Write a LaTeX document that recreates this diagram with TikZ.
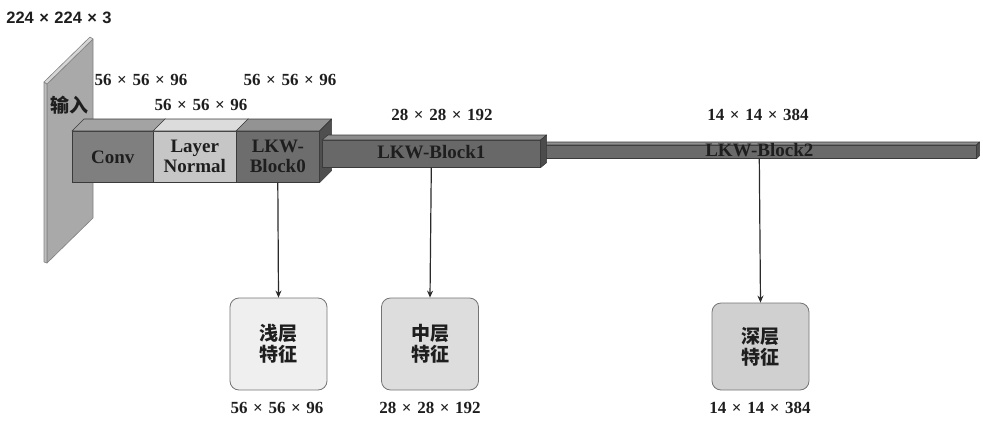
\documentclass[tikz,border=0pt]{standalone}
\usepackage{fontspec}
\setmainfont{Liberation Serif}
\newfontfamily\cjk{Noto Sans CJK SC}
\newfontfamily\hsans{Liberation Sans}
\usetikzlibrary{arrows.meta}
\newcommand\tms{\hspace{0.33em}×\hspace{0.33em}}
\definecolor{edgec}{HTML}{3A3A3A}
\definecolor{txt}{HTML}{1E1E1E}
\definecolor{planef}{HTML}{A9A9A9}
\definecolor{planes}{HTML}{BDBDBD}
\definecolor{planet}{HTML}{D6D6D6}
\definecolor{convf}{HTML}{7F7F7F}
\definecolor{convt}{HTML}{A3A3A3}
\definecolor{lnf}{HTML}{C6C6C6}
\definecolor{lnt}{HTML}{DCDCDC}
\definecolor{bzf}{HTML}{6D6D6D}
\definecolor{bzt}{HTML}{939393}
\definecolor{bzs}{HTML}{4F4F4F}
\definecolor{bof}{HTML}{686868}
\definecolor{bot}{HTML}{8C8C8C}
\definecolor{bos}{HTML}{4C4C4C}
\definecolor{btf}{HTML}{6A6A6A}
\definecolor{btt}{HTML}{909090}
\definecolor{bts}{HTML}{505050}
\definecolor{fa}{HTML}{EFEFEF}
\definecolor{fb}{HTML}{DDDDDD}
\definecolor{fc}{HTML}{D0D0D0}
\definecolor{boxedge}{HTML}{747474}
\definecolor{arrc}{HTML}{2A2A2A}
\begin{document}
\begin{tikzpicture}[x=1pt,y=-1pt,
  face/.style={draw=edgec, line width=0.6pt, inner sep=0pt, anchor=north west},
  shade3d/.style={draw=edgec, line width=0.6pt, line join=round},
  dim/.style={font=\fontsize{17}{20}\selectfont\bfseries, text=txt, inner sep=0pt},
  blk/.style={font=\fontsize{19}{20}\selectfont\bfseries, text=txt, align=center},
  feat/.style={draw=boxedge, rounded corners=9pt, line width=0.8pt, minimum width=97pt, inner sep=0pt,
     font=\cjk\bfseries\fontsize{19}{21}\selectfont, align=center, text=txt},
  arr/.style={-{Stealth[length=7pt,width=6pt]}, line width=1.2pt, draw=arrc}]
\useasboundingbox (0,0) rectangle (983,426);
% input plane
\filldraw[shade3d, fill=planef, draw=gray] (47,84) -- (93,39) -- (93,218) -- (47,263) -- cycle;
\filldraw[shade3d, fill=planes, draw=gray] (44,82) -- (47,84) -- (47,263) -- (44,262) -- cycle;
\filldraw[shade3d, fill=planet, draw=gray] (44,82) -- (90,37) -- (93,39) -- (47,84) -- cycle;
\node[font=\cjk\bfseries\fontsize{19}{20}\selectfont, text=txt] (inp) at (69,105) {输入};
% block 2 (behind)
\node[face, fill=btf, minimum width=434pt, minimum height=13pt] (b2) at (542,145) {};
\filldraw[shade3d, fill=btt] (b2.north west) -- ++(3,-3) -- ([shift={(3,-3)}]b2.north east) -- (b2.north east) -- cycle;
\filldraw[shade3d, fill=bts] (b2.north east) -- ++(3,-3) -- ([shift={(3,-3)}]b2.south east) -- (b2.south east) -- cycle;
% first group
\node[face, fill=convf, minimum width=81pt, minimum height=51pt] (conv) at (72,131) {};
\node[face, fill=lnf, minimum width=83pt, minimum height=51pt] (ln) at (153,131) {};
\node[face, fill=bzf, minimum width=83pt, minimum height=51pt] (b0) at (236,131) {};
\filldraw[shade3d, fill=convt] (conv.north west) -- ++(12,-12) -- ([shift={(12,-12)}]conv.north east) -- (conv.north east) -- cycle;
\filldraw[shade3d, fill=lnt] (ln.north west) -- ++(12,-12) -- ([shift={(12,-12)}]ln.north east) -- (ln.north east) -- cycle;
\filldraw[shade3d, fill=bzt] (b0.north west) -- ++(12,-12) -- ([shift={(12,-12)}]b0.north east) -- (b0.north east) -- cycle;
\filldraw[shade3d, fill=bzs] (b0.north east) -- ++(12,-12) -- ([shift={(12,-12)}]b0.south east) -- (b0.south east) -- cycle;
\node[blk] (lconv) at (conv.center) {Conv};
\node[blk] (lln) at (ln.center) {Layer\\Normal};
\node[blk] (lb0) at (b0.center) {LKW-\\Block0};
% block 1
\node[face, fill=bof, minimum width=218pt, minimum height=27pt] (b1) at (322,140) {};
\filldraw[shade3d, fill=bot] (b1.north west) -- ++(6,-5) -- ([shift={(6,-5)}]b1.north east) -- (b1.north east) -- cycle;
\filldraw[shade3d, fill=bos] (b1.north east) -- ++(6,-5) -- ([shift={(6,-5)}]b1.south east) -- (b1.south east) -- cycle;
\node[blk] (lb1) at ([yshift=1.5pt]b1.center) {LKW-Block1};
\node[blk] (lb2) at ([yshift=1.5pt]b2.center) {LKW-Block2};
% dimension labels
\node[font=\hsans\fontsize{16.5}{20}\selectfont\bfseries, text=txt] (d0) at (59,18) {224\tms 224\tms 3};
\node[dim] (d1) at (141,80) {56\tms 56\tms 96};
\node[dim] (d2) at (201,105) {56\tms 56\tms 96};
\node[dim] (d3) at (290,80) {56\tms 56\tms 96};
\node[dim] (d4) at (442,115) {28\tms 28\tms 192};
\node[dim] (d5) at (758,115) {14\tms 14\tms 384};
% feature boxes
\node[feat, fill=fa, minimum height=92pt] (f1) at (278.5,344) {浅层\\特征};
\node[feat, fill=fb, minimum height=92pt] (f2) at (430,344) {中层\\特征};
\node[feat, fill=fc, minimum height=87pt] (f3) at (760.5,346.5) {深层\\特征};
\node[dim] (e1) at (277,408) {56\tms 56\tms 96};
\node[dim] (e2) at (430,408) {28\tms 28\tms 192};
\node[dim] (e3) at (760,408) {14\tms 14\tms 384};
% arrows
\draw[arr] (b0.south) -- (f1.north);
\draw[arr] (b1.south) -- (f2.north);
\draw[arr] (b2.south) -- (f3.north);
\end{tikzpicture}
\end{document}
